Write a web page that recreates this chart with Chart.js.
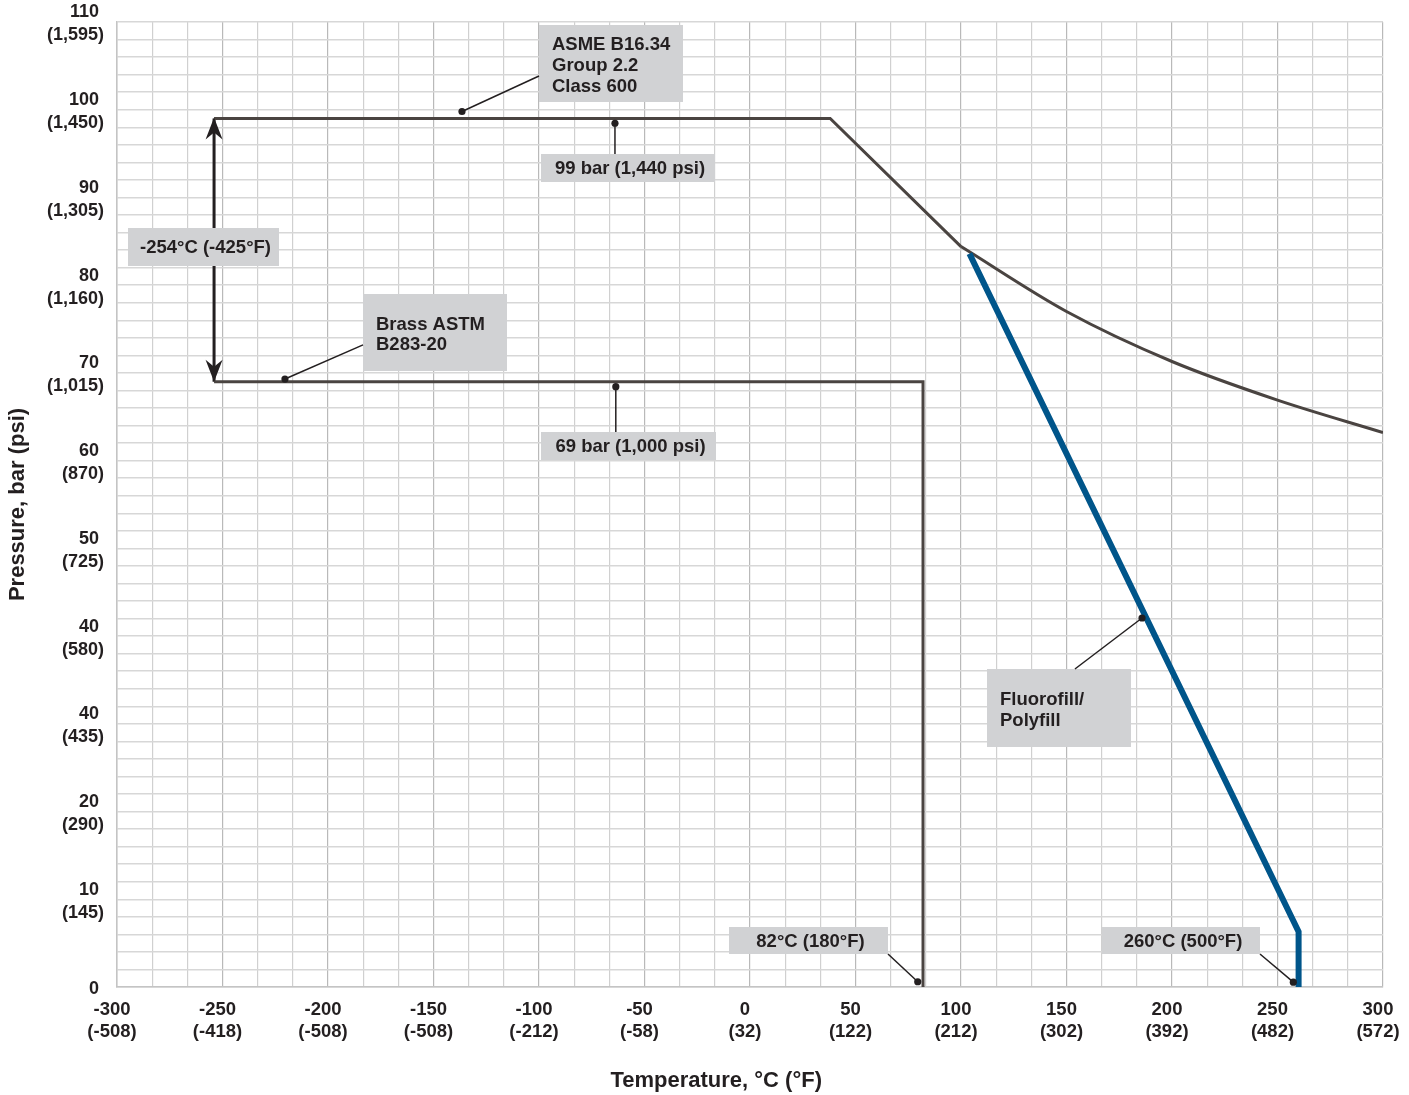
<!DOCTYPE html>
<html>
<head>
<meta charset="utf-8">
<title>Pressure / temperature rating</title>
<script src="https://cdn.jsdelivr.net/npm/chart.js@4.4.1/dist/chart.umd.min.js"></script>
<style>
  html, body { margin: 0; padding: 0; background: #ffffff; }
  canvas { display: block; }
</style>
</head>
<body>
<canvas id="rating" width="1409" height="1095"></canvas>
<script>
// ---- axis tick captions ----
const tempTicks   = [-300, -250, -200, -150, -100, -50, 0, 50, 100, 150, 200, 250, 300];
const tempTicksF  = ['(-508)', '(-418)', '(-508)', '(-508)', '(-212)', '(-58)', '(32)', '(122)', '(212)', '(302)', '(392)', '(482)', '(572)'];
const pressTicks    = [0, 10, 20, 30, 40, 50, 60, 70, 80, 90, 100, 110];
const pressTicksBar = ['0', '10', '20', '40', '40', '50', '60', '70', '80', '90', '100', '110'];
const pressTicksPsi = ['', '(145)', '(290)', '(435)', '(580)', '(725)', '(870)', '(1,015)', '(1,160)', '(1,305)', '(1,450)', '(1,595)'];

// ---- rating curves (°C, bar) ----
const asmeTemp       = [-254, 38, 100];
const asmePress      = [99, 99, 84.4];
const asmeCurveTemp  = [100, 150, 200, 250, 300];
const asmeCurvePress = [84.4, 77.0, 71.3, 66.9, 63.2];
const brassTemp      = [-254, 82, 82];
const brassPress     = [69, 69, 0];
const fluoroTemp     = [104, 260, 260];
const fluoroPress    = [83.6, 6.3, 0];
const rangeTemp      = [-254, -254];
const rangePress     = [99, 69];

// ---- callout boxes: box = [tMin, tMax, pMin, pMax], leader from box edge to a dot ----
const callouts = [
  { lines: ['ASME B16.34', 'Group 2.2', 'Class 600'], box: [-100, -31.75, 100.88, 109.66], from: [-100, 103.85], to: [-136.5, 99.8] },
  { lines: ['99 bar (1,440 psi)'], box: [-99.05, -16.6, 91.76, 94.95], from: [-64, 94.95], to: [-64, 98.46] },
  { lines: ['-254°C (-425°F)'], box: [-294.8, -223.2, 82.2, 86.5] },
  { lines: ['Brass ASTM', 'B283-20'], box: [-183.4, -115.2, 70.2, 79.0], from: [-183.4, 73.2], to: [-220.4, 69.3] },
  { lines: ['69 bar (1,000 psi)'], box: [-99.05, -16.1, 60.07, 63.26], from: [-63.6, 63.26], to: [-63.6, 68.43] },
  { lines: ['Fluorofill/', 'Polyfill'], box: [112.3, 180.6, 27.36, 36.25], from: [154, 36.25], to: [185.8, 42.06] },
  { lines: ['82°C (180°F)'], box: [-9.95, 65.4, 3.76, 6.84], from: [65.4, 3.76], to: [79.5, 0.6] },
  { lines: ['260°C (500°F)'], box: [166.7, 241.7, 3.76, 6.84], from: [241.7, 3.76], to: [257.5, 0.55] }
];

const FONT = "'Liberation Sans', Arial, Helvetica, sans-serif";
const INK = '#231f20';
const zip = (xs, ys) => xs.map((v, i) => ({ x: v, y: ys[i] }));
const near = (a, b) => Math.abs(a - b) < 1e-6;

Chart.defaults.font.family = FONT;

function arrowHead(ctx, x, y, s) {
  // s = 1: wings below the tip (points up); s = -1: points down
  ctx.beginPath();
  ctx.moveTo(x, y);
  ctx.lineTo(x + 8.5, y + 22 * s);
  ctx.lineTo(x, y + 15 * s);
  ctx.lineTo(x - 8.5, y + 22 * s);
  ctx.closePath();
  ctx.fill();
}

const rangeArrows = {
  id: 'rangeArrows',
  afterDatasetsDraw(chart) {
    const idx = chart.data.datasets.findIndex(d => d.label === 'range');
    const [a, b] = chart.getDatasetMeta(idx).data;
    const ctx = chart.ctx;
    ctx.save();
    ctx.fillStyle = INK;
    const up = a.y < b.y ? 1 : -1;
    arrowHead(ctx, a.x, a.y - 1, up);
    arrowHead(ctx, b.x, b.y, -up);
    ctx.restore();
  }
};

const calloutPlugin = {
  id: 'callouts',
  afterDatasetsDraw(chart) {
    const { ctx, scales: { x, y } } = chart;
    ctx.save();
    callouts.forEach(c => {
      const x0 = Math.round(x.getPixelForValue(c.box[0]));
      const x1 = Math.round(x.getPixelForValue(c.box[1]));
      const y0 = Math.round(y.getPixelForValue(c.box[3]));
      const y1 = Math.round(y.getPixelForValue(c.box[2]));
      ctx.fillStyle = '#d1d2d4';
      ctx.fillRect(x0, y0, x1 - x0, y1 - y0);

      ctx.fillStyle = INK;
      ctx.font = 'bold 18.5px ' + FONT;
      ctx.textBaseline = 'middle';
      const n = c.lines.length;
      const cy = (y0 + y1) / 2 + (n > 1 ? 2.5 : 1);
      c.lines.forEach((t, i) => {
        const ty = cy + (i - (n - 1) / 2) * 20.75;
        if (n > 1) {
          ctx.textAlign = 'left';
          ctx.fillText(t, x0 + 13, ty);
        } else {
          ctx.textAlign = 'center';
          ctx.fillText(t, (x0 + x1) / 2 + 2, ty);
        }
      });

      if (c.from) {
        const fx = x.getPixelForValue(c.from[0]), fy = y.getPixelForValue(c.from[1]);
        const tx = x.getPixelForValue(c.to[0]), ty = y.getPixelForValue(c.to[1]);
        ctx.strokeStyle = INK;
        ctx.lineWidth = 1.5;
        ctx.beginPath();
        ctx.moveTo(fx, fy);
        ctx.lineTo(tx, ty);
        ctx.stroke();
        ctx.beginPath();
        ctx.arc(tx, ty, 3.6, 0, Math.PI * 2);
        ctx.fill();
      }
    });
    ctx.restore();
  }
};

const xTitle = {
  id: 'xTitle',
  afterDraw(chart) {
    const xs = chart.scales.x;
    const ctx = chart.ctx;
    ctx.save();
    ctx.fillStyle = INK;
    ctx.font = 'bold 22px ' + FONT;
    ctx.textAlign = 'center';
    ctx.textBaseline = 'middle';
    ctx.fillText('Temperature, °C (°F)', xs.getPixelForValue(-16), xs.bottom - 14);
    ctx.restore();
  }
};

const lineStyle = { pointRadius: 0, fill: false, borderJoinStyle: 'miter', borderCapStyle: 'butt', tension: 0 };

new Chart(document.getElementById('rating'), {
  type: 'line',
  data: {
    datasets: [
      Object.assign({ label: 'Fluorofill/Polyfill', data: zip(fluoroTemp, fluoroPress), borderColor: '#00558a', borderWidth: 6 }, lineStyle),
      Object.assign({ label: 'ASME B16.34 Group 2.2 Class 600', data: zip(asmeTemp, asmePress), borderColor: '#4a4441', borderWidth: 3 }, lineStyle),
      Object.assign({}, lineStyle, { label: 'ASME B16.34 (elevated)', data: zip(asmeCurveTemp, asmeCurvePress), borderColor: '#4a4441', borderWidth: 3, cubicInterpolationMode: 'monotone', tension: 0.4 }),
      Object.assign({ label: 'Brass ASTM B283-20', data: zip(brassTemp, brassPress), borderColor: '#4a4441', borderWidth: 3 }, lineStyle),
      Object.assign({ label: 'range', data: zip(rangeTemp, rangePress), borderColor: INK, borderWidth: 3 }, lineStyle)
    ]
  },
  options: {
    responsive: false,
    animation: false,
    events: [],
    layout: { padding: { left: 0, right: 26, top: 22, bottom: 0 } },
    plugins: { legend: { display: false }, tooltip: { enabled: false } },
    scales: {
      x: {
        type: 'linear',
        min: -300,
        max: 300,
        afterBuildTicks(s) {
          s.ticks = [];
          for (let i = 0; i <= 36; i++) s.ticks.push({ value: -300 + i * 50 / 3 });
        },
        afterFit(s) { s.height = 108; s.paddingLeft = 0; s.paddingRight = 0; },
        grid: {
          drawTicks: false,
          lineWidth: 1.2,
          color: c => (c.tick && tempTicks.some(v => Math.abs(v - c.tick.value) < 1e-6)) ? '#b9b9b9' : '#d0d0d0'
        },
        border: { display: true, color: '#c4c4c4', width: 1.5 },
        ticks: {
          autoSkip: false,
          maxRotation: 0,
          padding: 12,
          labelOffset: -5,
          color: INK,
          font: { size: 18.5, weight: 'bold', lineHeight: 22 / 18.5 },
          callback(v) {
            const i = tempTicks.findIndex(t => Math.abs(t - v) < 1e-6);
            return i < 0 ? '' : [String(tempTicks[i]), tempTicksF[i]];
          }
        }
      },
      y: {
        type: 'linear',
        min: 0,
        max: 110,
        afterBuildTicks(s) {
          s.ticks = [];
          for (let v = 0; v <= 110; v += 2) s.ticks.push({ value: v });
        },
        afterFit(s) { s.width = 117; s.paddingTop = 0; s.paddingBottom = 0; },
        grid: {
          drawTicks: false,
          lineWidth: 1.5,
          color: '#d7d7d7'
        },
        border: { display: true, color: '#c4c4c4', width: 1.5 },
        title: {
          display: true,
          text: 'Pressure, bar (psi)',
          color: INK,
          font: { size: 22, weight: 'bold', lineHeight: 1.2 },
          padding: { top: 5, bottom: 0 }
        },
        ticks: {
          autoSkip: false,
          padding: 13,
          labelOffset: 2,
          color: INK,
          font: { size: 18, weight: 'bold', lineHeight: 23 / 18 },
          callback(v) {
            const i = pressTicks.findIndex(t => near(t, v));
            if (i < 0) return '';
            return pressTicksPsi[i] ? [pressTicksBar[i] + ' ', pressTicksPsi[i]] : pressTicksBar[i] + ' ';
          }
        }
      }
    }
  },
  plugins: [rangeArrows, calloutPlugin, xTitle]
});
</script>
</body>
</html>
